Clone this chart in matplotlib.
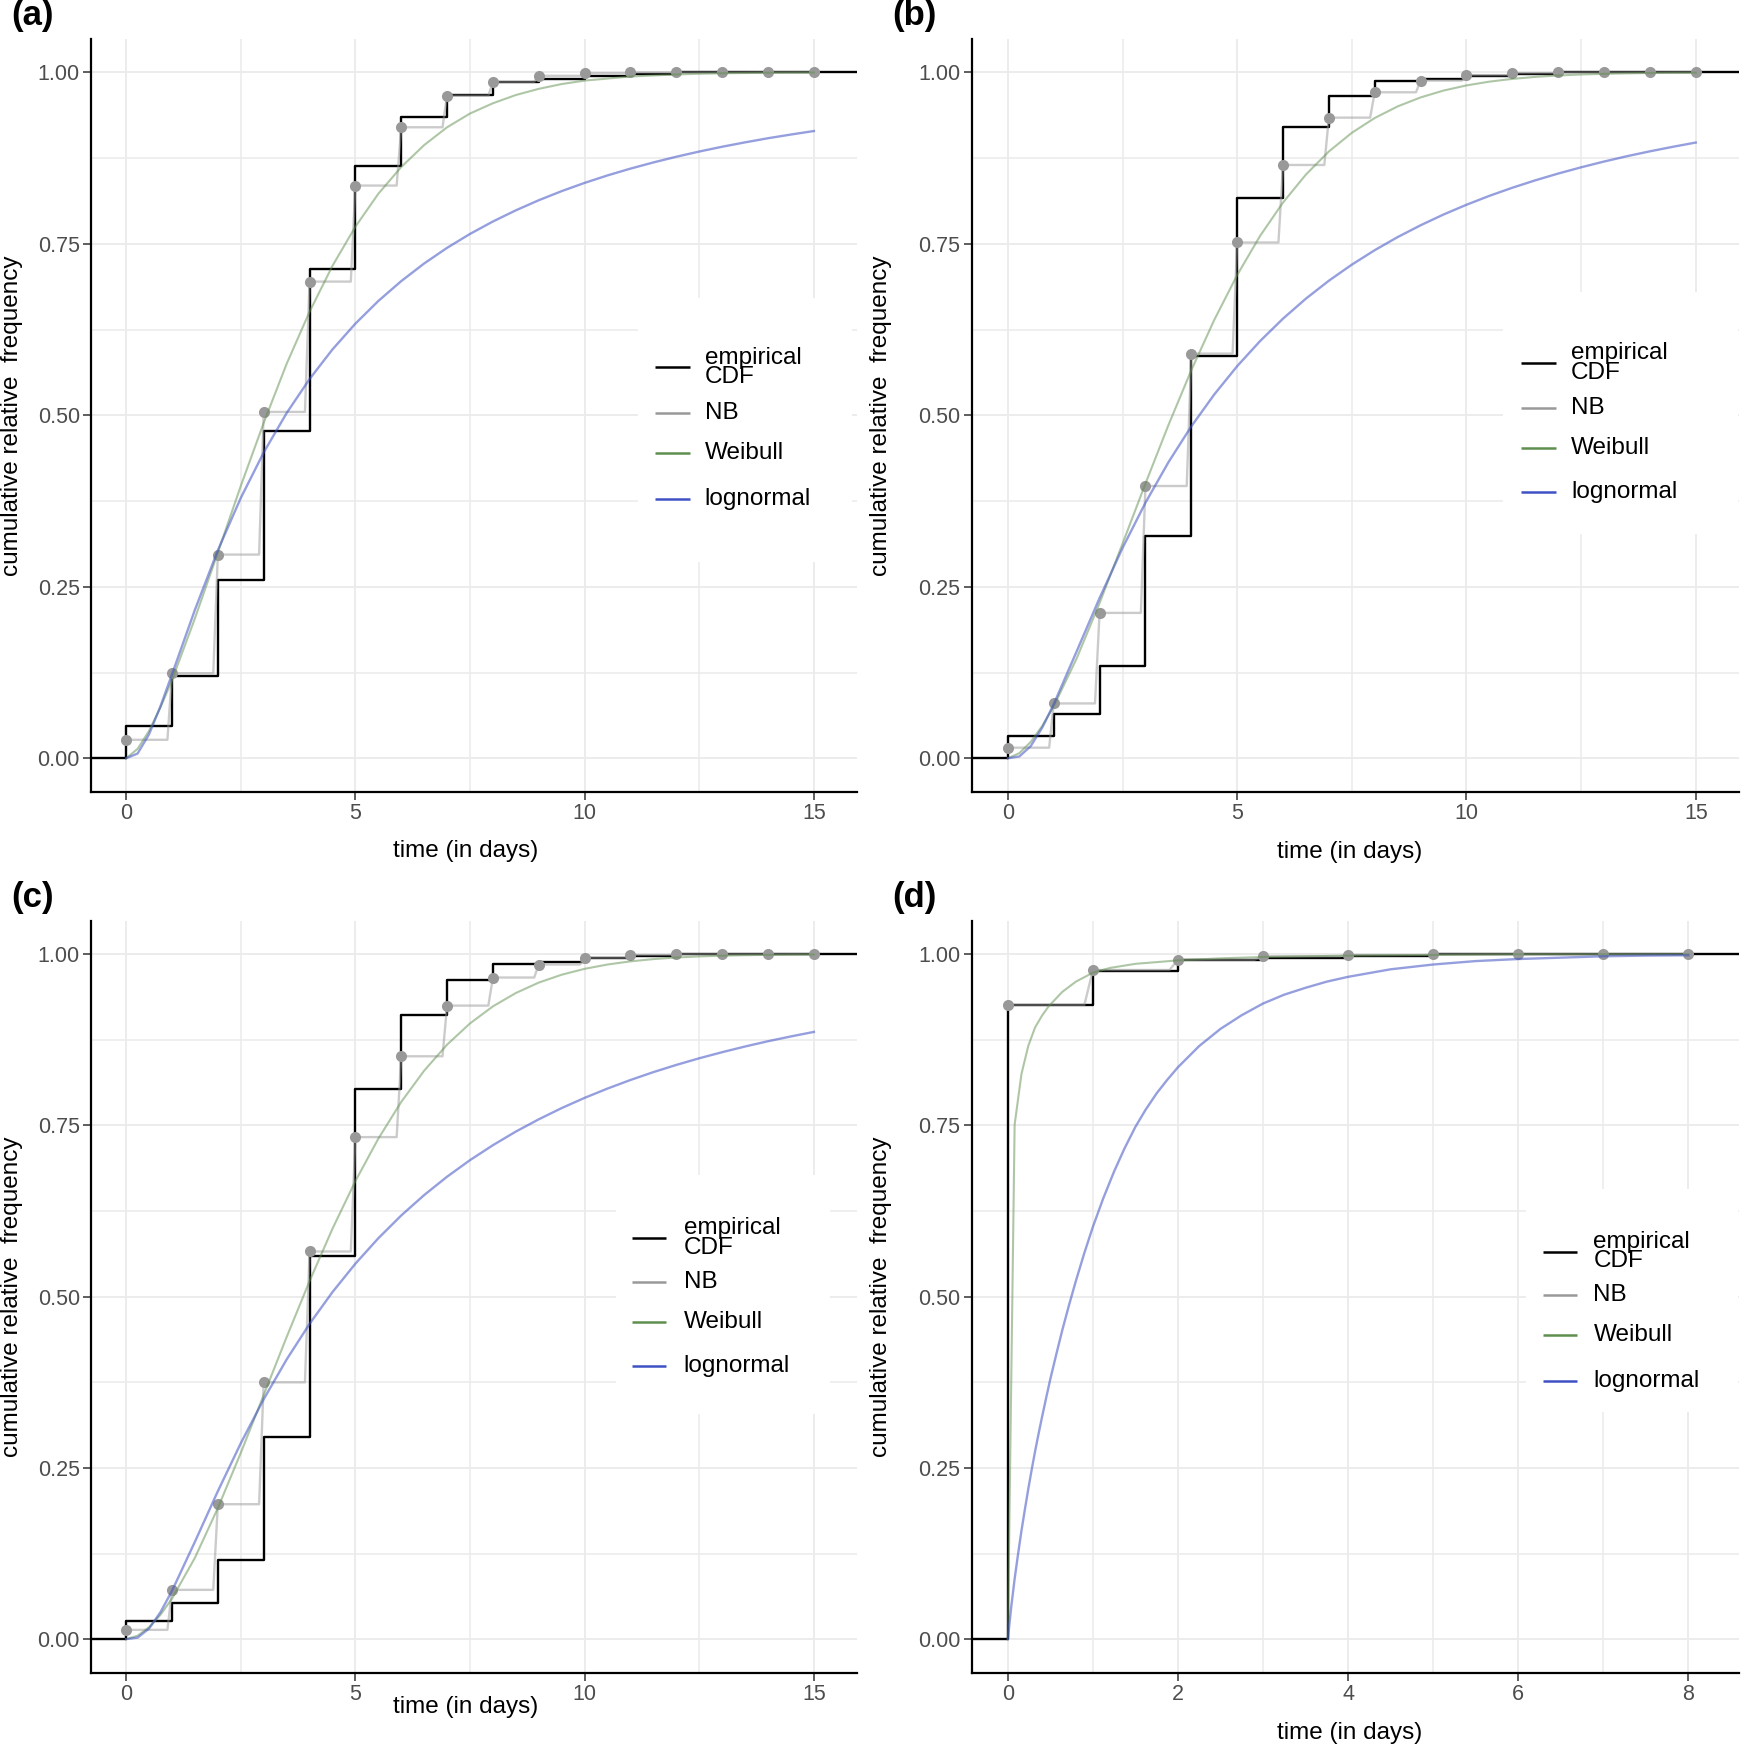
"""Four-panel comparison of an empirical CDF against NB, Weibull and
lognormal fits (cumulative relative frequency vs. time in days)."""

import matplotlib
matplotlib.use("Agg")
import matplotlib.pyplot as plt
from matplotlib.lines import Line2D
from matplotlib.patches import Rectangle
from matplotlib.ticker import FixedLocator

plt.rcParams["font.family"] = ["Liberation Sans", "DejaVu Sans"]

# --- Data ---
DAYS_15 = [0, 1, 2, 3, 4, 5, 6, 7, 8, 9, 10, 11, 12, 13, 14, 15]
DAYS_8 = [0, 1, 2, 3, 4, 5, 6, 7, 8]

ECDF_A = [0.047, 0.120, 0.260, 0.477, 0.713, 0.864, 0.935, 0.967, 0.986,
          0.991, 0.995, 0.998, 1.0, 1.0, 1.0, 1.0]
ECDF_B = [0.032, 0.065, 0.134, 0.324, 0.586, 0.817, 0.920, 0.966, 0.987,
          0.990, 0.994, 0.997, 1.0, 1.0, 1.0, 1.0]
ECDF_C = [0.026, 0.053, 0.115, 0.295, 0.559, 0.803, 0.912, 0.962, 0.986,
          0.989, 0.994, 0.997, 1.0, 1.0, 1.0, 1.0]
ECDF_D = [0.926, 0.976, 0.991, 0.995, 0.998, 1.0, 1.0, 1.0, 1.0]

NB_A = [0.027, 0.124, 0.297, 0.505, 0.695, 0.835, 0.920, 0.966, 0.986,
        0.995, 0.999, 1.0, 1.0, 1.0, 1.0, 1.0]
NB_B = [0.0155, 0.080, 0.212, 0.397, 0.590, 0.752, 0.865, 0.934, 0.971,
        0.988, 0.996, 0.999, 1.0, 1.0, 1.0, 1.0]
NB_C = [0.0136, 0.072, 0.197, 0.375, 0.566, 0.733, 0.851, 0.925, 0.966,
        0.985, 0.995, 0.999, 1.0, 1.0, 1.0, 1.0]
NB_D = [0.926, 0.977, 0.992, 0.997, 0.999, 1.0, 1.0, 1.0, 1.0]

CURVE_X_15 = [0.0, 0.25, 0.5, 0.75, 1.0, 1.5, 2.0, 2.5, 3.0, 3.5, 4.0, 4.5,
              5.0, 5.5, 6.0, 6.5, 7.0, 7.5, 8.0, 8.5, 9.0, 9.5, 10.0, 10.5,
              11.0, 11.5, 12.0, 12.5, 13.0, 13.5, 14.0, 14.5, 15.0]

WEIBULL_A = [0.0, 0.0138, 0.040, 0.0744, 0.114, 0.204, 0.300, 0.397, 0.489,
             0.575, 0.651, 0.718, 0.775, 0.823, 0.862, 0.894, 0.920, 0.940,
             0.955, 0.967, 0.976, 0.983, 0.988, 0.991, 0.994, 0.9955, 0.997,
             0.998, 0.9987, 0.9991, 0.9995, 0.9997, 0.9998]
LOGNORM_A = [0.0, 0.0070, 0.0351, 0.0761, 0.1224, 0.2165, 0.3033, 0.3795,
             0.4459, 0.5033, 0.5529, 0.5961, 0.6337, 0.6667, 0.6957, 0.7214,
             0.7442, 0.7645, 0.7826, 0.7989, 0.8136, 0.8269, 0.8389, 0.8498,
             0.8597, 0.8687, 0.8770, 0.8846, 0.8916, 0.8980, 0.9040, 0.9094,
             0.9145]

WEIBULL_B = [0.0, 0.0075, 0.024, 0.0473, 0.076, 0.1456, 0.2264, 0.3129,
             0.4005, 0.4856, 0.5658, 0.6391, 0.7045, 0.7616, 0.8103, 0.8511,
             0.8847, 0.9119, 0.9335, 0.9504, 0.9635, 0.9735, 0.9810, 0.9865,
             0.9905, 0.9934, 0.9955, 0.9969, 0.9979, 0.9986, 0.9991, 0.9994,
             0.9996]
LOGNORM_B = [0.0, 0.0027, 0.0179, 0.0448, 0.0788, 0.1559, 0.2337, 0.3066,
             0.3726, 0.4315, 0.4839, 0.5304, 0.5717, 0.6083, 0.6410, 0.6702,
             0.6963, 0.7197, 0.7408, 0.7599, 0.7771, 0.7928, 0.8070, 0.8200,
             0.8318, 0.8426, 0.8525, 0.8616, 0.8700, 0.8778, 0.8849, 0.8915,
             0.8977]

WEIBULL_C = [0.0, 0.0050, 0.0174, 0.0357, 0.0592, 0.1188, 0.1914, 0.2719,
             0.3564, 0.4410, 0.5227, 0.5992, 0.6688, 0.7307, 0.7844, 0.8300,
             0.8680, 0.8990, 0.9239, 0.9434, 0.9586, 0.9701, 0.9787, 0.9850,
             0.9896, 0.9929, 0.9952, 0.9968, 0.9979, 0.9986, 0.9991, 0.9994,
             0.9996]
LOGNORM_C = [0.0, 0.0022, 0.0155, 0.0395, 0.0705, 0.1422, 0.2160, 0.2860,
             0.3503, 0.4083, 0.4603, 0.5067, 0.5482, 0.5853, 0.6186, 0.6484,
             0.6752, 0.6994, 0.7212, 0.7411, 0.7590, 0.7754, 0.7903, 0.8039,
             0.8164, 0.8279, 0.8384, 0.8481, 0.8570, 0.8653, 0.8730, 0.8800,
             0.8866]

WEIBULL_X_D = [0.0, 0.08, 0.16, 0.24, 0.32, 0.4, 0.48, 0.64, 0.8, 1.0, 1.2,
               1.5, 2.0, 2.5, 3.0, 4.0, 5.0, 6.0, 7.0, 8.0]
WEIBULL_D = [0.0, 0.751, 0.825, 0.866, 0.893, 0.910, 0.924, 0.945, 0.960,
             0.973, 0.980, 0.986, 0.991, 0.994, 0.996, 0.998, 0.999, 1.0,
             1.0, 1.0]
LOGNORM_X_D = [0.0, 0.04, 0.08, 0.12, 0.16, 0.2, 0.24, 0.28, 0.32, 0.36,
               0.4, 0.45, 0.5, 0.57, 0.64, 0.72, 0.8, 0.9, 1.0, 1.12, 1.25,
               1.37, 1.5, 1.62, 1.75, 1.87, 2.0, 2.25, 2.5, 2.75, 3.0, 3.25,
               3.5, 3.75, 4.0, 4.5, 5.0, 5.5, 6.0, 6.5, 7.0, 7.5, 8.0]
LOGNORM_D = [0.0, 0.047, 0.088, 0.124, 0.158, 0.189, 0.219, 0.247, 0.274,
             0.299, 0.323, 0.352, 0.380, 0.416, 0.451, 0.488, 0.523, 0.564,
             0.602, 0.643, 0.683, 0.716, 0.748, 0.773, 0.797, 0.816, 0.835,
             0.866, 0.891, 0.911, 0.928, 0.941, 0.951, 0.960, 0.967, 0.978,
             0.985, 0.990, 0.993, 0.995, 0.997, 0.998, 0.9985]

LEGEND_LABELS = ["empirical\nCDF", "NB", "Weibull", "lognormal"]
X_TITLE = "time (in days)"
Y_TITLE = "cumulative relative  frequency"

# --- Styling ---
FIG_W_PX, FIG_H_PX = 1746, 1750
DPI = 100
# layout positions were measured on a 1568 px wide preview of the reference
PREVIEW_W = 1568.0
PREVIEW_H = PREVIEW_W * FIG_H_PX / FIG_W_PX

COL_ECDF = "black"
COL_NB = "#999999"
COL_WEIBULL = "#5F8F4F"
COL_LOGNORM = "#3F51C4"
GRID_COL = "#EBEBEB"
NB_RISE = 0.1   # NB cdf evaluated on a 0.1-day grid -> short ramp per step


def fx(x):
    return x / PREVIEW_W


def fy(y):
    return 1 - y / PREVIEW_H


def nb_path(days, probs):
    """Horizontal run from each point, short ramp up to the next one."""
    xs, ys = [], []
    for i, (d, p) in enumerate(zip(days, probs)):
        xs.append(d)
        ys.append(p)
        if i < len(days) - 1:
            xs.append(days[i + 1] - NB_RISE)
            ys.append(p)
    return xs, ys


PANELS = [
    dict(tag="(a)", rect=(82, 35, 770, 711), xlim=(-0.76, 15.95),
         days=DAYS_15, ecdf=ECDF_A, nb=NB_A,
         wx=CURVE_X_15, wy=WEIBULL_A, lx=CURVE_X_15, ly=LOGNORM_A,
         xmajor=[0, 5, 10, 15], xminor=[2.5, 7.5, 12.5],
         xtitle=(418, 764), ytitle_x=11,
         legend=(588, 620, 633, [330, 371, 407, 448], (573, 268, 765, 505))),
    dict(tag="(b)", rect=(873, 35, 1562, 711), xlim=(-0.78, 15.95),
         days=DAYS_15, ecdf=ECDF_B, nb=NB_B,
         wx=CURVE_X_15, wy=WEIBULL_B, lx=CURVE_X_15, ly=LOGNORM_B,
         xmajor=[0, 5, 10, 15], xminor=[2.5, 7.5, 12.5],
         xtitle=(1212, 765), ytitle_x=791,
         legend=(1366, 1397, 1411, [326, 366, 402, 442], (1350, 262, 1561, 480))),
    dict(tag="(c)", rect=(82, 827, 770, 1502), xlim=(-0.76, 15.95),
         days=DAYS_15, ecdf=ECDF_C, nb=NB_C,
         wx=CURVE_X_15, wy=WEIBULL_C, lx=CURVE_X_15, ly=LOGNORM_C,
         xmajor=[0, 5, 10, 15], xminor=[2.5, 7.5, 12.5],
         xtitle=(418, 1533), ytitle_x=11,
         legend=(568, 598, 614, [1112, 1151, 1187, 1227], (553, 1055, 745, 1270))),
    dict(tag="(d)", rect=(873, 827, 1562, 1502), xlim=(-0.42, 8.6),
         days=DAYS_8, ecdf=ECDF_D, nb=NB_D,
         wx=WEIBULL_X_D, wy=WEIBULL_D, lx=LOGNORM_X_D, ly=LOGNORM_D,
         xmajor=[0, 2, 4, 6, 8], xminor=[1, 3, 5, 7],
         xtitle=(1212, 1556), ytitle_x=791,
         legend=(1386, 1416, 1431, [1124, 1163, 1199, 1240], (1370, 1068, 1561, 1268))),
]


def draw_legend(fig, spec):
    hx0, hx1, tx, ys, box = spec
    bx0, by0, bx1, by1 = box
    fig.add_artist(Rectangle((fx(bx0), fy(by1)), fx(bx1) - fx(bx0),
                             fy(by0) - fy(by1), transform=fig.transFigure,
                             facecolor="white", edgecolor="none", zorder=5))
    colors = [COL_ECDF, COL_NB, COL_WEIBULL, COL_LOGNORM]
    for label, color, y in zip(LEGEND_LABELS, colors, ys):
        fig.add_artist(Line2D([fx(hx0), fx(hx1)], [fy(y), fy(y)],
                              transform=fig.transFigure, color=color,
                              lw=1.8, zorder=6, solid_capstyle="butt"))
        fig.text(fx(tx), fy(y), label, fontsize=17.5, ha="left", va="center",
                 linespacing=0.86, zorder=6)


fig = plt.figure(figsize=(FIG_W_PX / DPI, FIG_H_PX / DPI), dpi=DPI)

for p in PANELS:
    x0, y0, x1, y1 = p["rect"]
    ax = fig.add_axes([fx(x0), fy(y1), fx(x1) - fx(x0), fy(y0) - fy(y1)])

    xlo, xhi = p["xlim"]
    ax.set_xlim(xlo, xhi)
    ax.set_ylim(-0.0487, 1.0487)

    # empirical CDF, padded out to both panel edges like stat_ecdf
    ax.step([xlo] + p["days"] + [xhi], [0] + p["ecdf"] + [p["ecdf"][-1]],
            where="post", color=COL_ECDF, lw=1.7, zorder=2)
    nx, ny = nb_path(p["days"], p["nb"])
    ax.plot(nx, ny, color=COL_NB, alpha=0.5, lw=1.7, zorder=3)
    ax.plot(p["days"], p["nb"], "o", color=COL_NB, ms=8, mec="none", zorder=4)
    ax.plot(p["wx"], p["wy"], color=COL_WEIBULL, alpha=0.5, lw=1.5, zorder=5)
    ax.plot(p["lx"], p["ly"], color=COL_LOGNORM, alpha=0.55, lw=1.7, zorder=6)

    ax.xaxis.set_major_locator(FixedLocator(p["xmajor"]))
    ax.xaxis.set_minor_locator(FixedLocator(p["xminor"]))
    ax.yaxis.set_major_locator(FixedLocator([0, 0.25, 0.5, 0.75, 1.0]))
    ax.yaxis.set_minor_locator(FixedLocator([0.125, 0.375, 0.625, 0.875]))
    ax.set_yticklabels(["0.00", "0.25", "0.50", "0.75", "1.00"])
    ax.set_xticklabels([str(v) for v in p["xmajor"]])

    ax.grid(which="major", color=GRID_COL, lw=1.3)
    ax.grid(which="minor", color=GRID_COL, lw=1.1)
    ax.set_axisbelow(True)

    for side in ("top", "right"):
        ax.spines[side].set_visible(False)
    for side in ("left", "bottom"):
        ax.spines[side].set_linewidth(1.6)
        ax.spines[side].set_color("black")
    ax.tick_params(which="major", length=5.8, width=1.1, color="#333333",
                   labelsize=15.5, labelcolor="#4D4D4D", pad=2.5)
    ax.tick_params(which="minor", length=0)

    # axis titles and panel tag
    tx, ty = p["xtitle"]
    fig.text(fx(tx), fy(ty), X_TITLE, fontsize=17.5, ha="center", va="center")
    fig.text(fx(p["ytitle_x"]), fy((y0 + y1) / 2), Y_TITLE, fontsize=17.5,
             ha="center", va="center", rotation=90)
    fig.text(fx(x0 - 72), fy(y0 - 21), p["tag"], fontsize=25,
             fontweight="bold", ha="left", va="center")

    draw_legend(fig, p["legend"])

fig.savefig("out.png", dpi=DPI)
plt.close(fig)
